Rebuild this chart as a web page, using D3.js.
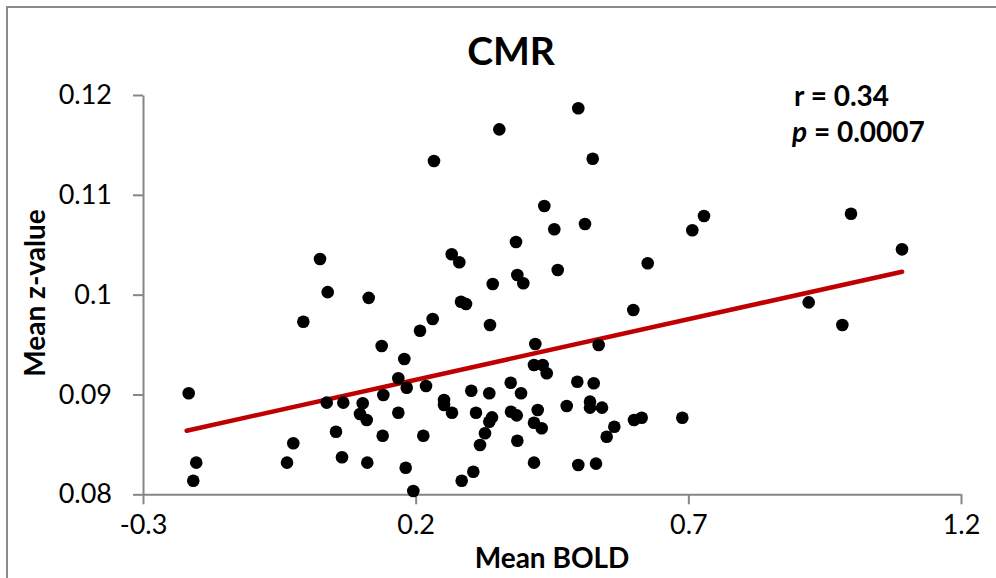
<!DOCTYPE html>
<html>
<head>
<meta charset="utf-8">
<script src="https://cdn.jsdelivr.net/npm/d3@7"></script>
<style>
	body { margin: 0; background: #fff; }
	svg { display: block; font-family: Lato, 'Open Sans', sans-serif; }
</style>
</head>
<body>
<svg width="996" height="578"></svg>
<script>
// Mean BOLD (x) and mean z-value (y) per subject
const boldValues = [
	0.2336, 0.0246, 0.2661, 0.280, 0.0387, 0.1139, 0.2831, 0.2923, -0.006, 0.2312,
	0.208, 0.1377, 0.1792, -0.2162, 0.1682, 0.1836, 0.219, 0.1407, 0.0369, 0.0673,
	0.1029, 0.0979, 0.1102, 0.1682, 0.252, 0.252, 0.2666, 0.302, 0.0539, 0.1395,
	0.214, -0.0244, -0.0359, 0.0649, 0.1113, 0.1817, -0.2023, -0.2078, 0.2844, 0.1957,
	0.3057, 0.4982, 0.3534, 0.5246, 0.4359, 0.4542, 0.5105, 0.384, 0.3413, 0.3864,
	0.3974, 0.4605, 0.6255, 0.7073, 0.7287, 0.9983, 1.0918, 0.9207, 0.9824, 0.5991,
	0.3363, 0.4194, 0.5356, 0.417, 0.433, 0.4403, 0.3743, 0.335, 0.3932, 0.4964,
	0.5265, 0.3106, 0.34, 0.335, 0.3748, 0.3853, 0.4238, 0.417, 0.4311, 0.477,
	0.5197, 0.5197, 0.5417, 0.5643, 0.5503, 0.6004, 0.6145, 0.689, 0.3271, 0.318,
	0.3864, 0.417, 0.4982, 0.5307
];
const zValues = [
	0.11339, 0.10357, 0.10404, 0.10324, 0.10025, 0.09968, 0.09929, 0.09906, 0.09729, 0.09756,
	0.09639, 0.09486, 0.09355, 0.09012, 0.09162, 0.09068, 0.09085, 0.08995, 0.08918, 0.08918,
	0.08912, 0.08804, 0.08744, 0.08817, 0.08945, 0.08895, 0.08817, 0.09038, 0.08627, 0.08587,
	0.08587, 0.08511, 0.08317, 0.08371, 0.08317, 0.08266, 0.08317, 0.08136, 0.08136, 0.08033,
	0.08226, 0.11867, 0.11656, 0.11362, 0.10888, 0.10655, 0.10708, 0.10527, 0.10107, 0.10197,
	0.10114, 0.10247, 0.10314, 0.10645, 0.10788, 0.10811, 0.10454, 0.09923, 0.09696, 0.09846,
	0.09696, 0.09506, 0.09496, 0.09295, 0.09295, 0.09212, 0.09118, 0.09012, 0.09012, 0.09128,
	0.09112, 0.08817, 0.08771, 0.08727, 0.08827, 0.08791, 0.08844, 0.08717, 0.08661, 0.08885,
	0.08928, 0.08868, 0.08868, 0.08677, 0.08577, 0.08744, 0.08767, 0.08767, 0.08611, 0.08494,
	0.08537, 0.08317, 0.08294, 0.08307
];

// linear trendline end points
const trendX = [-0.22, 1.092];
const trendY = [0.08637, 0.1023];

const xTicks = [-0.3, 0.2, 0.7, 1.2];
const xTickLabels = ['-0.3', '0.2', '0.7', '1.2'];
const yTicks = [0.08, 0.09, 0.1, 0.11, 0.12];
const yTickLabels = ['0.08', '0.09', '0.1', '0.11', '0.12'];

const svg = d3.select('svg');
const axisColor = '#868686';

const x = d3.scaleLinear().domain([-0.3, 1.2]).range([143, 961]);
const y = d3.scaleLinear().domain([0.08, 0.12]).range([494.3, 95]);

// chart area border (only top and left edges show in the picture)
svg.append('path')
	.attr('d', 'M7,600 L7,7 L1000,7')
	.attr('fill', 'none')
	.attr('stroke', '#8a8a8a')
	.attr('stroke-width', 2);

// axes
let xAxis = svg.append('g')
	.attr('transform', `translate(0,${y(0.08)})`)
	.call(d3.axisBottom(x).tickValues(xTicks).tickSize(10).tickSizeOuter(0)
		.tickFormat(function (d, i) { return xTickLabels[i]; }));

let yAxis = svg.append('g')
	.attr('transform', `translate(${x(-0.3)},0)`)
	.call(d3.axisLeft(y).tickValues(yTicks).tickSize(10).tickSizeOuter(0)
		.tickFormat(function (d, i) { return yTickLabels[i]; }));

[xAxis, yAxis].forEach(a => {
	a.select('.domain').attr('stroke', axisColor).attr('stroke-width', 2);
	a.selectAll('.tick line').attr('stroke', axisColor).attr('stroke-width', 2);
	a.selectAll('.tick text')
		.attr('fill', '#000')
		.style('font-size', '27px')
		.style('font-family', 'Lato, sans-serif');
});
xAxis.selectAll('.tick text').attr('y', 21);
yAxis.selectAll('.tick text').attr('x', -31);

// trendline
svg.append('line')
	.attr('x1', x(trendX[0]))
	.attr('y1', y(trendY[0]))
	.attr('x2', x(trendX[1]))
	.attr('y2', y(trendY[1]))
	.attr('stroke', '#c00000')
	.attr('stroke-width', 4.5)
	.attr('stroke-linecap', 'round');

// points
svg.append('g')
	.selectAll('circle')
	.data(boldValues)
	.enter().append('circle')
	.attr('cx', function (d) { return x(d); })
	.attr('cy', function (d, i) { return y(zValues[i]); })
	.attr('r', 6.3)
	.attr('fill', '#000');

// titles
svg.append('text')
	.attr('x', 511)
	.attr('y', 65)
	.attr('text-anchor', 'middle')
	.style('font-size', '39px')
	.style('font-weight', 'bold')
	.text('CMR');

svg.append('text')
	.attr('x', 552)
	.attr('y', 568)
	.attr('text-anchor', 'middle')
	.style('font-size', '28px')
	.style('font-weight', 'bold')
	.text('Mean BOLD');

svg.append('text')
	.attr('transform', 'translate(45,293) rotate(-90)')
	.attr('text-anchor', 'middle')
	.style('font-size', '28px')
	.style('font-weight', 'bold')
	.text('Mean z-value');

// correlation note
svg.append('text')
	.attr('x', 794)
	.attr('y', 106)
	.style('font-size', '28px')
	.style('font-weight', 'bold')
	.text('r = 0.34');

let pText = svg.append('text')
	.attr('x', 792)
	.attr('y', 142)
	.style('font-size', '28px')
	.style('font-weight', 'bold');
pText.append('tspan').style('font-style', 'italic').text('p');
pText.append('tspan').text(' = 0.0007');
</script>
</body>
</html>
